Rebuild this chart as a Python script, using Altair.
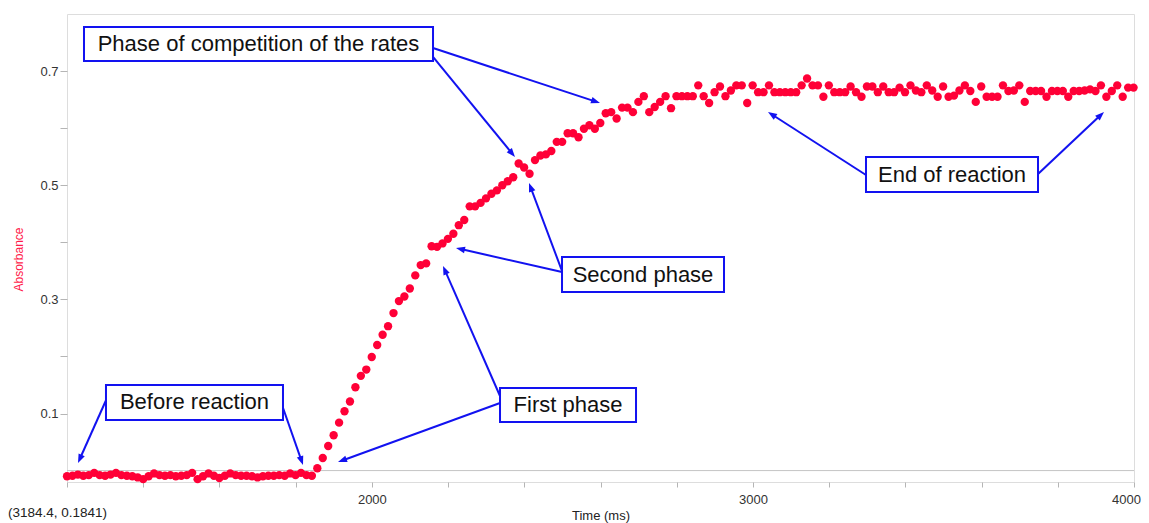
import math
import altair as alt
import pandas as pd

# ---------------- data ----------------
T_START = 1200.0   # ms, first sample
T_STEP = 14.28     # ms, sampling interval of the logger

absorbance = [
    -0.010, -0.009, -0.007, -0.009, -0.008, -0.004, -0.008, -0.009, -0.007, -0.004,
    -0.008, -0.009, -0.010, -0.012, -0.015, -0.010, -0.005, -0.008, -0.009, -0.008,
    -0.010, -0.009, -0.008, -0.004, -0.015, -0.010, -0.005, -0.009, -0.013, -0.009,
    -0.005, -0.008, -0.009, -0.009, -0.010, -0.012, -0.010, -0.009, -0.009, -0.008,
    -0.009, -0.005, -0.008, -0.004, -0.008, -0.009,
    0.004, 0.022, 0.043, 0.062, 0.084, 0.104, 0.121, 0.146, 0.166, 0.177,
    0.199, 0.220, 0.238, 0.253, 0.276, 0.297, 0.305, 0.319, 0.342, 0.360,
    0.363, 0.393, 0.392, 0.398, 0.406, 0.415, 0.430, 0.439,
    0.463, 0.463, 0.469, 0.477, 0.485, 0.491, 0.500, 0.507, 0.514, 0.538,
    0.531, 0.520, 0.544, 0.552, 0.554, 0.560, 0.576, 0.576, 0.591, 0.591,
    0.584, 0.599, 0.605, 0.599, 0.609, 0.626, 0.628, 0.617, 0.636, 0.636,
    0.628, 0.646,
    0.656, 0.628, 0.637, 0.646, 0.656, 0.635, 0.656, 0.656, 0.656, 0.656,
    0.675, 0.656, 0.644, 0.663, 0.673, 0.656, 0.666, 0.675, 0.675, 0.644,
    0.675, 0.663, 0.663, 0.675, 0.663, 0.663, 0.663, 0.663, 0.663, 0.675,
    0.687, 0.675, 0.675, 0.655, 0.675, 0.663, 0.663, 0.663, 0.673, 0.663,
    0.655, 0.673, 0.673, 0.663, 0.673, 0.663, 0.663,
    0.671, 0.663, 0.675, 0.666, 0.663, 0.675, 0.666, 0.655, 0.673, 0.655,
    0.657, 0.666, 0.675, 0.665, 0.646, 0.673, 0.655, 0.655, 0.655, 0.675,
    0.665, 0.666, 0.675, 0.646, 0.665, 0.665, 0.665, 0.655, 0.665, 0.665,
    0.665, 0.655, 0.665, 0.665, 0.666, 0.668, 0.665, 0.675, 0.655, 0.665,
    0.675, 0.655, 0.671, 0.671,
]
time_ms = [round(T_START + i * T_STEP, 2) for i in range(len(absorbance))]

x_ticks = [1200, 1400, 1600, 1800, 2000, 2200, 2400, 2600, 2800, 3000,
           3200, 3400, 3600, 3800, 4000]
y_ticks = [0.1, 0.2, 0.3, 0.4, 0.5, 0.6, 0.7]

# annotation boxes (data units)
box_text = ["Phase of competition of the rates", "Before reaction", "First phase",
            "Second phase", "End of reaction"]
box_t1 = [1244.6, 1302.3, 2336.3, 2499.0, 3296.7]
box_t2 = [2160.5, 1766.8, 2693.2, 2924.1, 3748.1]
box_v1 = [0.7772, 0.1500, 0.1447, 0.3742, 0.5494]
box_v2 = [0.7176, 0.0886, 0.0851, 0.3129, 0.4881]

# arrows: start (t, v) -> tip (t, v)
arr_t1 = [2160.5, 2160.5, 1305.0, 1764.2, 2336.3, 2336.3, 2499.0, 2499.0, 3296.7, 3748.1]
arr_v1 = [0.7404, 0.7247, 0.1272, 0.1149, 0.1184, 0.1307, 0.3480, 0.3497, 0.5179, 0.5197]
arr_t2 = [2598.7, 2375.6, 1228.9, 1819.3, 1911.2, 2186.7, 2220.8, 2412.4, 3039.6, 3921.3]
arr_v2 = [0.6441, 0.5494, 0.0133, 0.0098, 0.0150, 0.3585, 0.3900, 0.5039, 0.6283, 0.6283]

# ---------------- layout ----------------
W, H = 1067, 468
X_MIN, X_MAX = 1200, 4000
Y_MIN, Y_MAX = -0.02, 0.8
PX_T = W / (X_MAX - X_MIN)
PX_V = H / (Y_MAX - Y_MIN)

RED = "#ff0037"
BLUE = "#1212f0"
FONT = "Liberation Sans"

xs = alt.Scale(domain=[X_MIN, X_MAX], nice=False, zero=False)
ys = alt.Scale(domain=[Y_MIN, Y_MAX], nice=False, zero=False)

df = pd.DataFrame({"t": time_ms, "a": absorbance})

rows = []
for t1, v1, t2, v2 in zip(arr_t1, arr_v1, arr_t2, arr_v2):
    dx = (t2 - t1) * PX_T
    dy = -(v2 - v1) * PX_V
    L = math.hypot(dx, dy)
    ux, uy = dx / L, dy / L
    ang = math.degrees(math.atan2(dx, -dy)) % 360
    rows.append({"t1": t1, "v1": v1,
                 "te": t2 - 6 * ux / PX_T, "ve": v2 + 6 * uy / PX_V,
                 "t2": t2, "v2": v2, "ang": ang})
arr_df = pd.DataFrame(rows)
box_df = pd.DataFrame({"label": box_text, "t1": box_t1, "t2": box_t2,
                       "v1": box_v1, "v2": box_v2,
                       "tc": [(a + b) / 2 for a, b in zip(box_t1, box_t2)],
                       "vc": [(a + b) / 2 for a, b in zip(box_v1, box_v2)]})

x_axis = alt.Axis(values=x_ticks, format="d", title="Time (ms)",
                  labelExpr="datum.value >= 2000 && datum.value % 1000 == 0 ? datum.label : ''",
                  labelOffset={"condition": {"test": "datum.value == 4000", "value": -8}, "value": 0},
                  tickSize=5, tickColor="#b5b5b5", domain=False, grid=False,
                  labelFlush=False, labelOverlap=False, labelBound=False,
                  labelFontSize=13, labelColor="#333333", labelFont=FONT,
                  labelPadding=6, titleFont=FONT, titleFontSize=13,
                  titleFontWeight="normal", titleColor="#222222", titlePadding=3)
y_axis = alt.Axis(values=y_ticks, format=".1f", title="Absorbance",
                  labelExpr="indexof(['0.1','0.3','0.5','0.7'], datum.label) >= 0 ? datum.label : ''",
                  tickSize=7, tickColor="#b5b5b5", domain=False, grid=False,
                  labelFlush=False, labelOverlap=False,
                  labelFontSize=13, labelColor="#333333", labelFont=FONT,
                  labelPadding=2, titleFont=FONT, titleFontSize=12,
                  titleFontWeight="normal", titleColor="#ff1a4a",
                  titleX=-49, titleY=245, titleBaseline="middle")

zero_rule = alt.Chart(pd.DataFrame({"z": [0.0]})).mark_rule(
    color="#c4c4c4", strokeWidth=1).encode(
    y=alt.Y("z:Q", scale=ys, axis=y_axis))

points = alt.Chart(df).mark_circle(size=70, opacity=1, color=RED).encode(
    x=alt.X("t:Q", scale=xs, axis=x_axis),
    y=alt.Y("a:Q", scale=ys, axis=y_axis))

lines = alt.Chart(arr_df).mark_rule(color=BLUE, strokeWidth=2).encode(
    x=alt.X("t1:Q", scale=xs), x2="te:Q",
    y=alt.Y("v1:Q", scale=ys), y2="ve:Q")

heads = alt.Chart(arr_df).mark_point(
    shape="M0,0 L-0.75,2 L0.75,2 Z", filled=True, size=81, opacity=1,
    color=BLUE, strokeWidth=0).encode(
    x=alt.X("t2:Q", scale=xs), y=alt.Y("v2:Q", scale=ys),
    angle=alt.Angle("ang:Q", scale=None))

boxes = alt.Chart(box_df).mark_rect(fill="white", stroke=BLUE, strokeWidth=2).encode(
    x=alt.X("t1:Q", scale=xs), x2="t2:Q",
    y=alt.Y("v1:Q", scale=ys), y2="v2:Q")

texts = alt.Chart(box_df).mark_text(font=FONT, fontSize=22, color="#111111",
                                    align="center", baseline="middle").encode(
    x=alt.X("tc:Q", scale=xs), y=alt.Y("vc:Q", scale=ys), text="label:N")

coord = alt.Chart(pd.DataFrame({"s": ["(3184.4, 0.1841)"]})).mark_text(
    font=FONT, fontSize=13.5, color="#222222", align="left", baseline="middle").encode(
    x=alt.value(-59), y=alt.value(499), text="s:N")

chart = alt.layer(zero_rule, points, lines, heads, boxes, texts, coord).properties(
    width=W, height=H,
    autosize=alt.AutoSizeParams(type="none"),
    padding={"left": 59, "top": 6, "right": 7, "bottom": 41},
).configure_view(stroke="#dcdcdc", strokeWidth=1).configure(background="white")

chart.save("out.html", embed_options={"renderer": "svg", "actions": False})
